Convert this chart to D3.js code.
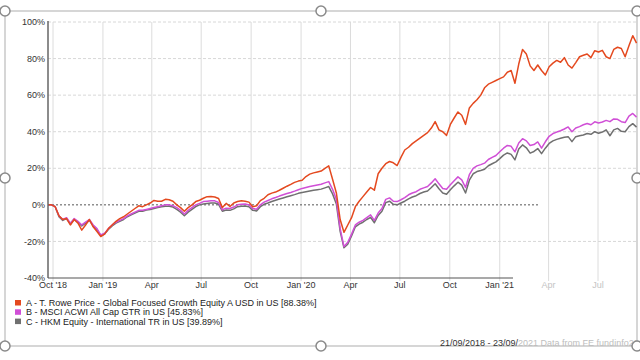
<!DOCTYPE html>
<html><head><meta charset="utf-8">
<script src="https://cdn.jsdelivr.net/npm/d3@7"></script>
<style>
html,body{margin:0;padding:0;background:#fff;}
svg{display:block;font-family:"Liberation Sans",Arial,sans-serif;}
</style></head>
<body><svg id="c" width="640" height="360"></svg>
<script>
// ---- data (weekly, starting 21/09/2018) ----
const startDate = "2018-09-21";
const seriesA = [0,0,-1,-6,-8,-7.5,-11,-8,-10,-13.8,-11,-8,-12,-14.6,-17.3,-16,-13,-11,-9,-7.5,-6.5,-5,-3.5,-2,-0.5,-1,0,1,2.4,2,2,3,2.8,2,0,-1.5,-3.5,-1.5,0,1.8,2.5,3.6,4.5,4.6,4.3,3.5,-1.5,0.8,-0.9,1,1.8,2.2,2,1.5,-1,-0.5,2.3,3.6,5.5,6.4,7,8,9.1,10.2,11.2,12.3,13,13.5,15.5,16.8,17.5,18,18.5,20,21.3,14,6.5,-8,-15,-11,-7,-1,2,4.5,7,9.5,8,17,20,22.5,23.7,23,21.5,26,30,31.5,33.5,35,36.5,38,39.5,42,45.5,41,40,38,44,47.5,50.8,49,44,53,55.5,57.5,60,64,66,67,68,69,70,72.5,73.5,66.5,77,85,82.5,76,73.5,76.5,73.5,71,75.5,77.5,79,78,80.5,76.5,74.8,77.8,81,81.8,82.5,80.5,84.3,83.6,84.5,81,80,85,86.2,85.5,81,87,92.5,88.4];
const seriesB = [0,0,-1,-6,-8,-7,-10,-7.5,-9,-11,-9.5,-8,-11,-13,-16.5,-15.5,-13,-11,-9.5,-8.5,-7.5,-6,-5,-4,-3,-3,-2.5,-2,-1.5,-1,-0.5,0,0,-0.5,-1.5,-3,-5,-3,-1.5,0,0.8,1.8,2,2.2,2.2,1.3,-2.7,-1.8,-2,-1.2,0,0.3,0.5,0,-2,-2.4,0,1.5,2.4,3.3,4,4.8,5.5,6.2,6.8,7.5,8.3,9,9.5,10,10.5,10.9,11.3,12,12.7,8.5,3,-13,-22.8,-20.5,-16,-11,-9.5,-8.5,-7,-5.5,-8.5,-4.5,-2,3,3.8,2,1.8,2.8,4,5.5,6.5,7.2,8.5,9.3,10,12,14.3,11.5,9,8.5,11,13.2,15.3,13.7,9.5,16.5,20,21.3,22,22.8,24.8,26,27,29,31,32.5,32,29,33.8,36.2,35,32.5,33,34.4,31,34.5,37.5,39,39.8,40.5,41.5,42.6,40,42,42.8,43.8,44.5,43.8,45.4,44.8,45.3,46.2,45.5,47,46.8,45.5,45,48.5,50,48];
const seriesC = [0,0,-1,-6.5,-8.5,-7.5,-10.5,-8,-9.5,-11.5,-10,-8.5,-11.5,-13.5,-16.8,-16,-13.5,-11.5,-10,-9,-8,-6.5,-5.5,-4.5,-3.5,-3.5,-2.8,-2.5,-2,-1.5,-1,-0.8,-0.8,-1.2,-2.5,-4,-6,-4,-2.5,-1,0,0.5,0.8,1,1,0.3,-3.5,-2.8,-3,-2.2,-1,-0.8,-0.6,-1,-3,-3.3,-1,0.3,1,1.8,2.5,3.2,3.8,4.4,5,5.6,6.3,6.8,7.2,7.6,8,8.3,8.6,9.3,10,6,0.5,-14.5,-23.5,-21.5,-17,-12,-10.5,-9.5,-8,-6.8,-9.8,-5.8,-3.5,1.2,2,0.3,0,1,2,3.3,4.3,5,6.2,7,7.6,9.5,11.5,8.8,6.5,5.8,8.3,10.4,12.4,10.8,6.5,13.5,17,18.2,18.8,19.5,21.4,22.5,23.5,25.3,27.2,28.4,27.6,24.6,30.5,32.8,31.2,28.3,29.2,30.8,28,31,33.6,35,35.8,36.4,37,37.3,34.6,37.3,37.8,38.2,39,38.6,40,39.2,39.8,41,37.8,41,41.8,40.2,40,42.8,44.4,42.5];
const seriesNames = ["A - T. Rowe Price - Global Focused Growth Equity A USD in US [88.38%]","B - MSCI ACWI All Cap GTR in US [45.83%]","C - HKM Equity - International TR in US [39.89%]"];
const seriesColors = ["#e4491f","#d04fd6","#707070"];
const yTicks = [100,80,60,40,20,0,-20,-40];
const xTickDates = ["2018-10-01","2019-01-01","2019-04-01","2019-07-01","2019-10-01","2020-01-01","2020-04-01","2020-07-01","2020-10-01","2021-01-01","2021-04-01","2021-07-01"];
const xTickLabels = ["Oct '18","Jan '19","Apr","Jul","Oct","Jan '20","Apr","Jul","Oct","Jan '21","Apr","Jul"];
const footerDark = "21/09/2018 - 23/09/";
const footerLight = "2021 Data from FE fundinfo20";

// ---- layout ----
const svg = d3.select("#c");
const parse = d3.utcParse("%Y-%m-%d");
const plotL = 48, plotR = 638, plotT = 22, plotB = 278;
const x = d3.scaleUtc().domain([parse("2018-10-01"), parse("2021-07-01")]).range([53, 598]);
const y = d3.scaleLinear().domain([-40, 100]).range([plotB, plotT]);
const t0 = parse(startDate);
const dates = seriesA.map((_, i) => d3.utcDay.offset(t0, 7 * i));

// frame
svg.append("rect").attr("x",5).attr("y",11).attr("width",632).attr("height",335)
  .attr("fill","none").attr("stroke","#c9c9c9").attr("stroke-width",1.5);

// vertical grid
const xTicks = xTickDates.map(parse);
svg.append("g").selectAll("line").data(xTicks).join("line")
  .attr("x1", d => x(d)).attr("x2", d => x(d)).attr("y1", plotT).attr("y2", plotB + 3)
  .attr("stroke", "#dcdcdc").attr("stroke-width", 1);

// horizontal grid
svg.append("g").selectAll("line").data(yTicks.filter(v => v !== -40 && v !== 0)).join("line")
  .attr("x1", plotL).attr("x2", plotR).attr("y1", d => y(d)).attr("y2", d => y(d))
  .attr("stroke", "#d8d8d8").attr("stroke-dasharray", "3,2");
// zero line
svg.append("line").attr("x1", plotL).attr("x2", 540).attr("y1", y(0)).attr("y2", y(0))
  .attr("stroke", "#555").attr("stroke-dasharray", "2,2").attr("stroke-width", 1);

// y labels
svg.append("g").selectAll("text").data(yTicks).join("text")
  .attr("x", 45).attr("y", d => y(d) + 3.2).attr("text-anchor", "end")
  .attr("font-size", 9).attr("fill", "#333").text(d => d + "%");

// x labels
svg.append("g").selectAll("text").data(xTicks).join("text")
  .attr("x", d => x(d)).attr("y", 288).attr("text-anchor", "middle")
  .attr("font-size", 9).attr("fill", (d, i) => i >= 10 ? "#c4c4c4" : "#333")
  .text((d, i) => xTickLabels[i]);

// lines
svg.append("clipPath").attr("id", "pc").append("rect")
  .attr("x", plotL).attr("y", 0).attr("width", plotR - plotL).attr("height", 300);
const line = d3.line().x((d, i) => x(dates[i])).y(d => y(d));
const g = svg.append("g").attr("clip-path", "url(#pc)");
[seriesC, seriesB, seriesA].forEach((s, k) => {
  g.append("path").datum(s).attr("d", line).attr("fill", "none")
    .attr("stroke", seriesColors[2 - k]).attr("stroke-width", 1.5).attr("stroke-linejoin", "round");
});

// axes lines
svg.append("line").attr("x1", plotL).attr("x2", plotL).attr("y1", plotT - 1).attr("y2", plotB)
  .attr("stroke", "#666").attr("stroke-width", 1.5);
svg.append("line").attr("x1", plotL).attr("x2", 513).attr("y1", plotB).attr("y2", plotB)
  .attr("stroke", "#555").attr("stroke-width", 1.2);

// legend
const lg = svg.append("g").selectAll("g").data(seriesNames).join("g")
  .attr("transform", (d, i) => `translate(15,${300 + i * 9.3})`);
lg.append("rect").attr("width", 6).attr("height", 5.5).attr("fill", (d, i) => seriesColors[i]);
lg.append("text").attr("x", 11).attr("y", 6).attr("font-size", 9).attr("fill", "#222").text(d => d);

// footer
const ft = svg.append("text").attr("x", 440).attr("y", 345.5).attr("font-size", 9);
ft.append("tspan").attr("fill", "#333").text(footerDark);
ft.append("tspan").attr("fill", "#bdbdbd").text(footerLight);

// selection handles
const handles = [[5,11],[321,11],[637,11],[5,178],[637,178],[5,346],[321,346],[637,346]];
svg.append("g").selectAll("circle").data(handles).join("circle")
  .attr("cx", d => d[0]).attr("cy", d => d[1]).attr("r", 5)
  .attr("fill", "#fff").attr("stroke", "#8a8a8a").attr("stroke-width", 1.5);
</script></body></html>
